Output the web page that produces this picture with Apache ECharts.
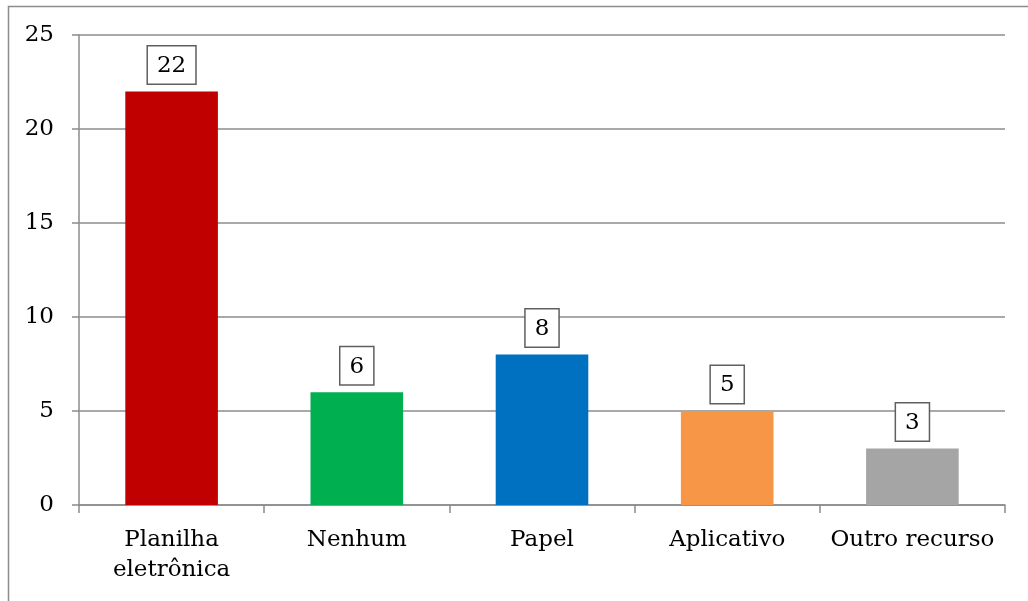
<!DOCTYPE html>
<html>
<head>
<meta charset="utf-8">
<script src="https://cdn.jsdelivr.net/npm/echarts@6/dist/echarts.min.js"></script>
<style>
  html, body { margin: 0; padding: 0; background: #fff; }
  #chart { width: 1028px; height: 601px; }
</style>
</head>
<body>
<div id="chart"></div>
<script>
// Recursos usados para controle
const categories = ['Planilha\neletrônica', 'Nenhum', 'Papel', 'Aplicativo', 'Outro recurso'];
const values = [22, 6, 8, 5, 3];
const barColors = ['#C00000', '#00B050', '#0070C0', '#F79646', '#A5A5A5'];
const yTicks = { min: 0, max: 25, interval: 5 };

const FONT = 'DejaVu Serif';
const chart = echarts.init(document.getElementById('chart'), null, { renderer: 'canvas' });

chart.setOption({
  animation: false,
  backgroundColor: '#fff',
  textStyle: { fontFamily: FONT },
  graphic: [{
    type: 'rect',
    shape: { x: 8.5, y: 6.5, width: 1040, height: 620 },
    style: { fill: 'none', stroke: '#8c8c8c', lineWidth: 1.5 },
    silent: true
  }],
  grid: { left: 79, right: 23, top: 35, bottom: 96, containLabel: false },
  xAxis: {
    type: 'category',
    data: categories,
    axisLine: { lineStyle: { color: '#8c8c8c', width: 1.5 } },
    axisTick: { show: true, length: 8, alignWithLabel: false, lineStyle: { color: '#8c8c8c', width: 1.5 } },
    axisLabel: { color: '#000', fontFamily: FONT, fontSize: 23, lineHeight: 30, margin: 20, interval: 0 }
  },
  yAxis: {
    type: 'value',
    min: yTicks.min,
    max: yTicks.max,
    interval: yTicks.interval,
    axisLine: { show: true, lineStyle: { color: '#8c8c8c', width: 1.5 } },
    axisTick: { show: true, length: 7, lineStyle: { color: '#8c8c8c', width: 1.5 } },
    axisLabel: { color: '#000', fontFamily: FONT, fontSize: 23, margin: 25 },
    splitLine: { show: true, lineStyle: { color: '#8c8c8c', width: 1.5 } }
  },
  series: [{
    type: 'bar',
    barWidth: '50%',
    data: values.map((v, i) => ({ value: v, itemStyle: { color: barColors[i] } })),
    label: {
      show: true,
      position: 'top',
      distance: 8,
      color: '#000',
      fontFamily: FONT,
      fontSize: 23,
      backgroundColor: '#fff',
      borderColor: '#5f5f5f',
      borderWidth: 1.5,
      padding: [8, 9, 6, 9]
    }
  }]
});
</script>
</body>
</html>
